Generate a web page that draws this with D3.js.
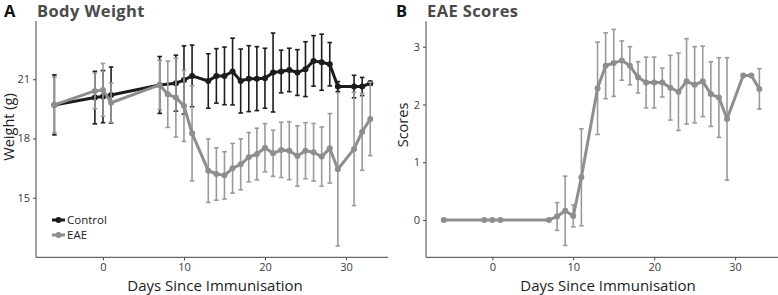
<!DOCTYPE html>
<html><head><meta charset="utf-8">
<script src="https://cdn.jsdelivr.net/npm/d3@7"></script>
<style>
body{margin:0;background:#fff;}
svg{display:block;font-family:"Open Sans",sans-serif;}
</style></head><body>
<svg id="chart" width="778" height="295"></svg>
<script>
// ---- Data ----
const controlDays = [-6,-1,0,1,7,9,10,11,13,14,15,16,17,18,19,20,21,22,23,24,25,26,27,28,29,31,32,33];
const controlWeight = [19.70,20.07,20.12,20.20,20.71,20.80,20.96,21.17,20.91,21.17,21.17,21.39,20.91,21.03,21.03,21.05,21.34,21.39,21.47,21.34,21.51,21.93,21.86,21.76,20.63,20.63,20.63,20.80];
const controlErr = [1.52,1.33,1.32,1.42,1.44,1.42,1.73,1.56,1.38,1.38,1.46,1.69,1.62,1.67,1.62,1.52,2.00,1.08,1.10,1.16,1.39,1.28,1.42,1.10,0.25,0.57,0.46,0.10];

const eaeDays = [-6,-1,0,1,7,8,9,10,11,13,14,15,16,17,18,19,20,21,22,23,24,25,26,27,28,29,31,32,33];
const eaeWeight = [19.70,20.41,20.46,19.81,20.71,20.24,20.07,19.65,18.26,16.37,16.20,16.13,16.49,16.69,17.05,17.21,17.53,17.25,17.42,17.38,17.11,17.38,17.30,17.08,17.50,16.44,17.47,18.34,18.99];
const eaeWeightErr = [1.40,0.90,1.34,1.00,1.25,1.68,2.00,1.80,2.41,1.61,1.33,1.20,1.26,1.29,1.25,1.31,1.22,1.17,1.40,1.47,1.53,1.42,1.46,1.50,1.76,3.88,2.87,1.95,1.86];

const scoreDays = eaeDays;
const eaeScore = [0,0,0,0,0,0.06,0.16,0.07,0.74,2.28,2.67,2.72,2.76,2.67,2.47,2.38,2.38,2.38,2.29,2.22,2.40,2.34,2.40,2.18,2.12,1.75,2.50,2.50,2.27];
const eaeScoreErr = [0,0,0,0,0,0.24,0.60,0.19,0.84,0.80,0.57,0.58,0.34,0.33,0.27,0.44,0.44,0.25,0.56,0.67,0.74,0.66,0.61,0.56,0.69,1.06,0,0,0.35];

const xTicks = [0,10,20,30];
const weightTicks = [15,18,21];
const scoreTicks = [0,1,2,3];
const legendLabels = ["Control","EAE"];

// ---- Styles ----
const cControl = "#1c1c1c", cEAE = "#8e8e8e", cEAEbar = "#9a9a9a";
const svg = d3.select("#chart");

function series(g, x, y, days, vals, errs, color, barColor){
  const data = days.map((d,i)=>({d, v:vals[i], e:errs[i]}));
  const eb = g.append("g");
  data.filter(p=>p.e>0).forEach(p=>{
    const cx = x(p.d), y1 = y(p.v+p.e), y2 = y(p.v-p.e);
    eb.append("line").attr("x1",cx).attr("x2",cx).attr("y1",y1).attr("y2",y2)
      .attr("stroke",barColor).attr("stroke-width",1.6);
    [y1,y2].forEach(yy=>eb.append("line").attr("x1",cx-2.3).attr("x2",cx+2.3).attr("y1",yy).attr("y2",yy)
      .attr("stroke",barColor).attr("stroke-width",1.6));
  });
  g.append("path").datum(data)
    .attr("d", d3.line().x(p=>x(p.d)).y(p=>y(p.v)))
    .attr("fill","none").attr("stroke",color).attr("stroke-width",3).attr("stroke-linejoin","round");
  g.selectAll(null).data(data).enter().append("circle")
    .attr("cx",p=>x(p.d)).attr("cy",p=>y(p.v)).attr("r",3).attr("fill",color);
}

function axes(g, x, y, yt, top){
  const [x0,x1] = x.range(), [yb] = y.range();
  const ax = g.append("g").attr("transform",`translate(0,${yb})`)
    .call(d3.axisBottom(x).tickValues(xTicks).tickFormat(d3.format("d")).tickSize(3).tickPadding(3));
  const ay = g.append("g").attr("transform",`translate(${x0},0)`)
    .call(d3.axisLeft(y).tickValues(yt).tickFormat(d3.format("d")).tickSize(3).tickPadding(3));
  [ax,ay].forEach(a=>{
    a.select(".domain").remove();
    a.selectAll(".tick line").attr("stroke","#444");
    a.selectAll(".tick text").attr("fill","#3a3a3a").style("font-size","11px").style("font-family","Open Sans");
  });
  g.append("line").attr("x1",x0).attr("x2",x1).attr("y1",yb).attr("y2",yb).attr("stroke","#444").attr("stroke-width",1);
  g.append("line").attr("x1",x0).attr("x2",x0).attr("y1",top).attr("y2",yb).attr("stroke","#444").attr("stroke-width",1);
}

// ---- Panel A ----
const xA = d3.scaleLinear().domain([-8.27,35.19]).range([36,388]);
const yA = d3.scaleLinear().domain([11.98,23.95]).range([257.3,21]);
const gA = svg.append("g");
axes(gA, xA, yA, weightTicks, 21);
series(gA, xA, yA, controlDays, controlWeight, controlErr, cControl, cControl);
series(gA, xA, yA, eaeDays, eaeWeight, eaeWeightErr, cEAE, cEAEbar);

// legend
const leg = gA.append("g");
[cControl, cEAE].forEach((c,i)=>{
  const ly = 220 + i*15;
  leg.append("line").attr("x1",52).attr("x2",65).attr("y1",ly).attr("y2",ly).attr("stroke",c).attr("stroke-width",3);
  leg.append("circle").attr("cx",58.5).attr("cy",ly).attr("r",3).attr("fill",c);
  leg.append("text").attr("x",67).attr("y",ly+4).text(legendLabels[i])
    .style("font-size","11.5px").attr("fill","#222");
});

const titleStyle = t => t.style("font-size","16.5px").style("font-weight","700");
titleStyle(svg.append("text").attr("x",4).attr("y",17).text("A")).attr("fill","#111");
titleStyle(svg.append("text").attr("x",37).attr("y",17).text("Body Weight")).attr("fill","#4a4a4a").style("letter-spacing","0.4px");
svg.append("text").attr("x",215).attr("y",291).attr("text-anchor","middle").text("Days Since Immunisation").style("font-size","15px").attr("fill","#222");
svg.append("text").attr("transform","translate(14,127) rotate(-90)").attr("text-anchor","middle").text("Weight (g)").style("font-size","14.5px").attr("fill","#222");

// ---- Panel B ----
const xB = d3.scaleLinear().domain([-8.2,35.3]).range([426,778]);
const yB = d3.scaleLinear().domain([-0.646,3.44]).range([257.3,21.3]);
const gB = svg.append("g");
axes(gB, xB, yB, scoreTicks, 21.3);
series(gB, xB, yB, scoreDays, eaeScore, eaeScoreErr, cEAE, cEAEbar);

titleStyle(svg.append("text").attr("x",396).attr("y",17).text("B")).attr("fill","#111");
titleStyle(svg.append("text").attr("x",427).attr("y",17).text("EAE Scores")).attr("fill","#4a4a4a").style("letter-spacing","0.4px");
svg.append("text").attr("x",608).attr("y",291).attr("text-anchor","middle").text("Days Since Immunisation").style("font-size","15px").attr("fill","#222");
svg.append("text").attr("transform","translate(408,125) rotate(-90)").attr("text-anchor","middle").text("Scores").style("font-size","14.5px").attr("fill","#222");
</script>
</body></html>
